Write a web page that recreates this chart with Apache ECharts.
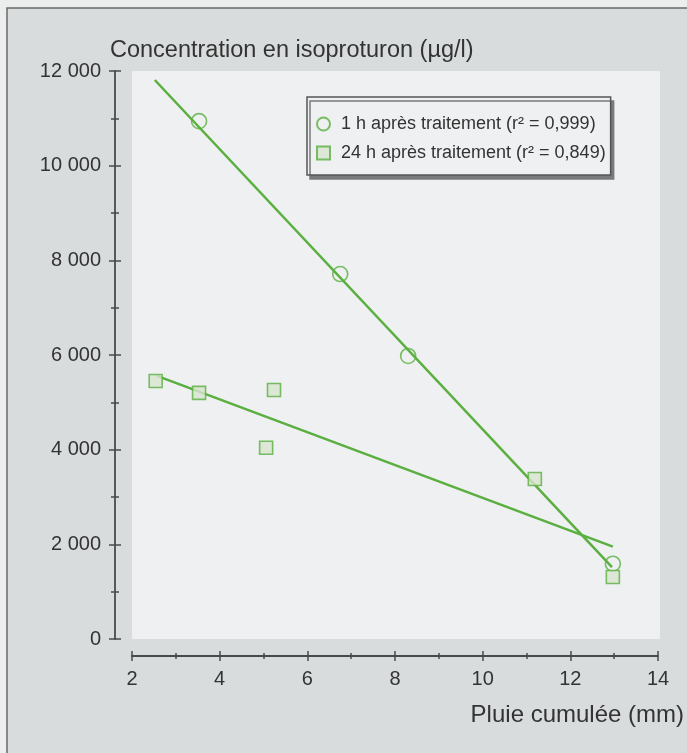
<!DOCTYPE html>
<html>
<head>
<meta charset="utf-8">
<script src="https://cdn.jsdelivr.net/npm/echarts@6/dist/echarts.min.js"></script>
<style>html,body{margin:0;padding:0;background:#eceeee}#c{width:687px;height:753px}</style>
</head>
<body>
<div id="c"></div>
<script>
// Data
const titleText = 'Concentration en isoproturon (µg/l)';
const xAxisName = 'Pluie cumulée (mm)';
const seriesNames = ['1 h après traitement (r² = 0,999)', '24 h après traitement (r² = 0,849)'];
const points1h = [[3.53, 10940], [6.75, 7710], [8.30, 5980], [12.97, 1590]];
const points24h = [[2.54, 5450], [3.53, 5200], [5.06, 4040], [5.24, 5260], [11.19, 3380], [12.97, 1310]];
const fit1h = [[2.52, 11810], [12.95, 1520]];
const fit24h = [[2.57, 5560], [12.97, 1950]];
const xTicks = {min: 2, max: 14, interval: 2};
const yTicks = {min: 0, max: 12000, interval: 2000};

const FONT = '"Liberation Sans", Arial, Helvetica, sans-serif';
const GREEN = '#5aaf40';
const AXIS = '#4a4a4a';
const TEXT = '#333';
const fmtY = v => v === 0 ? '0' : (Math.floor(v / 1000) + ' ' + String(v % 1000).padStart(3, '0'));

const chart = echarts.init(document.getElementById('c'));

function xAx(position, offset, labels) {
  return {
    type: 'value', min: xTicks.min, max: xTicks.max, interval: xTicks.interval,
    position: position, offset: offset, splitLine: {show: false},
    axisLine: {show: labels, onZero: false, lineStyle: {color: AXIS, width: 1.8}},
    axisTick: {show: true, inside: false, length: 5, lineStyle: {color: AXIS, width: 1.5}},
    minorTick: {show: true, splitNumber: 2, length: 3, lineStyle: {color: AXIS, width: 1.5}},
    axisLabel: {show: labels, margin: 13, fontSize: 20, color: TEXT, fontFamily: FONT}
  };
}
function yAx(position, offset, labels) {
  return {
    type: 'value', min: yTicks.min, max: yTicks.max, interval: yTicks.interval,
    position: position, offset: offset, splitLine: {show: false},
    axisLine: {show: labels, onZero: false, lineStyle: {color: AXIS, width: 1.8}},
    axisTick: {show: true, inside: false, length: 6, lineStyle: {color: AXIS, width: 1.5}},
    minorTick: {show: true, splitNumber: 2, length: 4, lineStyle: {color: AXIS, width: 1.5}},
    axisLabel: {show: labels, margin: 14, fontSize: 20, color: TEXT, fontFamily: FONT, formatter: fmtY}
  };
}

chart.setOption({
  backgroundColor: '#eceeee',
  animation: false,
  textStyle: {fontFamily: FONT},
  graphic: [
    {type: 'rect', z: -10, shape: {x: 7, y: 8, width: 700, height: 760},
     style: {fill: '#d9dcdd', stroke: '#6a6a6a', lineWidth: 1.5}},
    {type: 'rect', z: -9, shape: {x: 132, y: 71, width: 528, height: 568},
     style: {fill: '#eef0f1'}},
    {type: 'text', style: {text: xAxisName, x: 684, y: 715, align: 'right', verticalAlign: 'middle',
      fontSize: 24, fill: TEXT, fontFamily: FONT}}
  ],
  title: {text: titleText, left: 105, top: 34,
    textStyle: {fontSize: 23.5, fontWeight: 'normal', color: TEXT, fontFamily: FONT}},
  grid: {left: 132, right: 29, top: 71, bottom: 114, containLabel: false},
  // second axis of each pair sits on the opposite side, shifted onto the first, so ticks cross the line
  xAxis: [xAx('bottom', 17, true), xAx('top', -(568 + 17), false)],
  yAxis: [yAx('left', 17, true), yAx('right', -(526 + 17), false)],
  legend: {
    data: seriesNames, orient: 'vertical', left: 307, top: 97,
    backgroundColor: '#eef0f1', borderColor: '#555', borderWidth: 1.5,
    shadowColor: '#7a7a7a', shadowBlur: 0, shadowOffsetX: 3, shadowOffsetY: 4,
    padding: [18, 5, 13, 9], itemGap: 11, itemWidth: 13, itemHeight: 13,
    textStyle: {fontSize: 18, color: TEXT, fontFamily: FONT, padding: [0, 0, 0, 6]}
  },
  series: [
    {type: 'line', data: fit1h, symbol: 'none', z: 2, silent: true,
     lineStyle: {color: GREEN, width: 2.5}},
    {type: 'line', data: fit24h, symbol: 'none', z: 2, silent: true,
     lineStyle: {color: GREEN, width: 2.5}},
    {type: 'scatter', name: seriesNames[0], data: points1h, symbol: 'circle', symbolSize: 15, z: 3,
     itemStyle: {color: 'rgba(238,240,241,0)', borderColor: GREEN, borderWidth: 1.6}},
    {type: 'scatter', name: seriesNames[1], data: points24h, symbol: 'rect', symbolSize: 13, z: 3,
     itemStyle: {color: '#d8e5ce', borderColor: GREEN, borderWidth: 1.6}}
  ]
});
</script>
</body>
</html>
